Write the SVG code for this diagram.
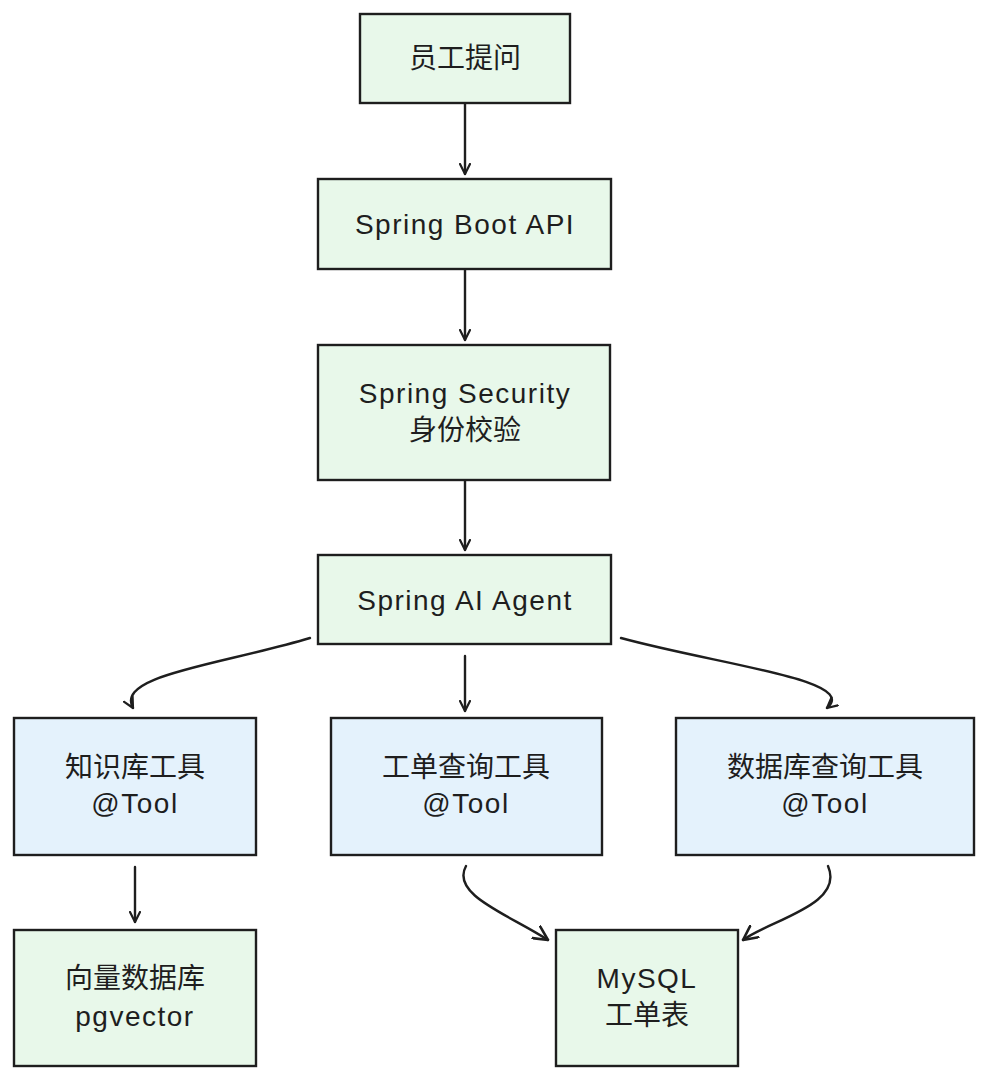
<svg xmlns="http://www.w3.org/2000/svg" width="989" height="1080" viewBox="0 0 989 1080">
<style>
.g{fill:#e8f8ea;stroke:#1e1e1e;stroke-width:2.4}
.b{fill:#e4f2fc;stroke:#1e1e1e;stroke-width:2.4}
.t{font-family:"Liberation Sans","Noto Sans CJK SC",sans-serif;font-size:28px;fill:#1e1e1e;text-anchor:middle;dominant-baseline:central}
.l{letter-spacing:1.5px}
.c{fill:none;stroke:#1e1e1e;stroke-width:2.4;stroke-linecap:round}
</style>
<defs>
<marker id="ah" viewBox="0 0 12 12" refX="11" refY="6" markerWidth="12" markerHeight="12" markerUnits="userSpaceOnUse" orient="auto">
<path d="M1,1 L11,6 L1,11" fill="none" stroke="#1e1e1e" stroke-width="2.2" stroke-linecap="round" stroke-linejoin="round"/>
</marker>
<marker id="ahl" viewBox="0 0 16 16" refX="15" refY="8" markerWidth="16" markerHeight="16" markerUnits="userSpaceOnUse" orient="auto">
<path d="M1,1 L15,8 L1,15" fill="none" stroke="#1e1e1e" stroke-width="2.6" stroke-linecap="round" stroke-linejoin="round"/>
</marker>
</defs>
<g id="connectors">
<path class="c" d="M465,104 L465,174" marker-end="url(#ah)"/>
<path class="c" d="M465,270 L465,340" marker-end="url(#ah)"/>
<path class="c" d="M465,481 L465,550" marker-end="url(#ah)"/>
<path class="c" d="M310,638 C220,665 115,675 133,708" marker-end="url(#ah)"/>
<path class="c" d="M465,656 L465,711" marker-end="url(#ah)"/>
<path class="c" d="M621,638 C720,665 860,680 827,708" marker-end="url(#ah)"/>
<path class="c" d="M135,867 L135,922" marker-end="url(#ah)"/>
<path class="c" d="M466,866 C450,895 510,915 548,940" marker-end="url(#ahl)"/>
<path class="c" d="M828,866 C845,905 770,920 743,940" marker-end="url(#ahl)"/>
</g>
<g id="n1"><rect class="g" x="360" y="14" width="210" height="89"/><text class="t" x="465" y="58">员工提问</text></g>
<g id="n2"><rect class="g" x="318" y="179" width="293" height="90"/><text class="t l" x="465" y="224">Spring Boot API</text></g>
<g id="n3"><rect class="g" x="318" y="345" width="292" height="135"/><text class="t l" x="465" y="393">Spring Security</text><text class="t" x="465" y="430">身份校验</text></g>
<g id="n4"><rect class="g" x="318" y="555" width="293" height="89"/><text class="t l" x="465" y="600">Spring AI Agent</text></g>
<g id="n5"><rect class="b" x="14" y="718" width="242" height="137"/><text class="t" x="135" y="767">知识库工具</text><text class="t l" x="135" y="803">@Tool</text></g>
<g id="n6"><rect class="b" x="331" y="718" width="271" height="137"/><text class="t" x="466" y="767">工单查询工具</text><text class="t l" x="466" y="803">@Tool</text></g>
<g id="n7"><rect class="b" x="676" y="718" width="298" height="137"/><text class="t" x="825" y="767">数据库查询工具</text><text class="t l" x="825" y="803">@Tool</text></g>
<g id="n8"><rect class="g" x="14" y="930" width="242" height="136"/><text class="t" x="135" y="978">向量数据库</text><text class="t l" x="135" y="1016">pgvector</text></g>
<g id="n9"><rect class="g" x="556" y="930" width="182" height="136"/><text class="t l" x="647" y="978">MySQL</text><text class="t" x="647" y="1015">工单表</text></g>
</svg>
